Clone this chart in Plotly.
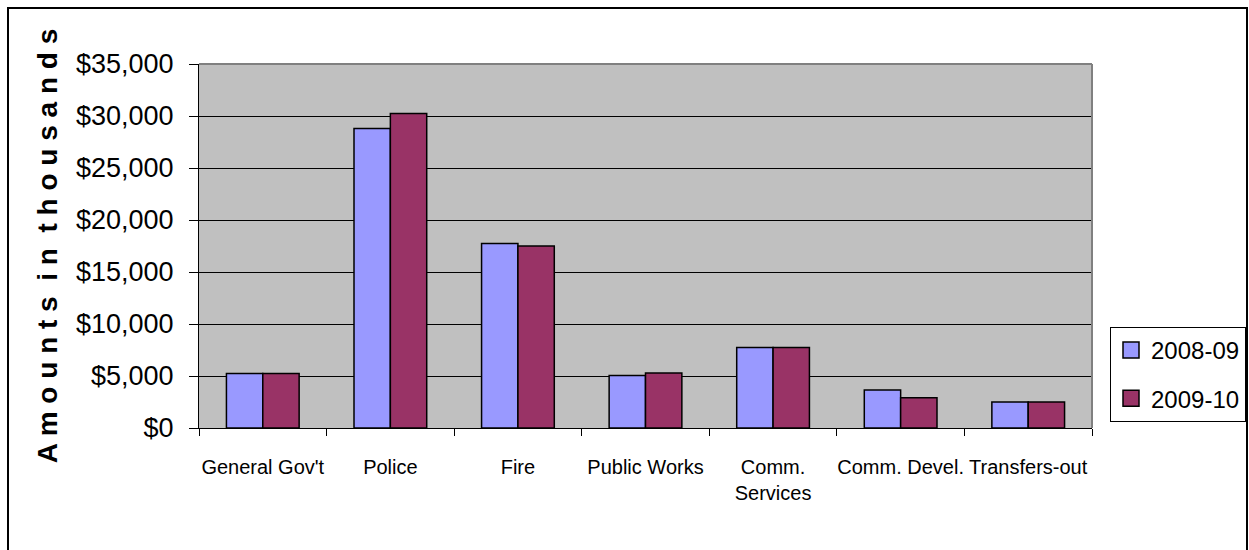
import plotly.graph_objects as go

# Expenditure by department, amounts in thousands of dollars
departments = ["General Gov't", "Police", "Fire", "Public Works",
               "Comm.<br>Services", "Comm. Devel.", "Transfers-out"]
fy_2008_09 = [5250, 28800, 17750, 5050, 7750, 3650, 2500]
fy_2009_10 = [5250, 30250, 17500, 5300, 7750, 2900, 2500]
series_names = ["2008-09", "2009-10"]
series_colors = ["#9999FF", "#993366"]
y_ticks = [0, 5000, 10000, 15000, 20000, 25000, 30000, 35000]
y_tick_labels = ["${:,}".format(v) for v in y_ticks]

FONT = "Liberation Sans, Arial, sans-serif"

fig = go.Figure()
for name, values, color in zip(series_names, [fy_2008_09, fy_2009_10], series_colors):
    fig.add_trace(go.Bar(
        x=departments, y=values, name=name, showlegend=False,
        marker=dict(color=color, line=dict(color="black", width=1.5)),
    ))
    # legend swatch drawn as a larger square marker
    fig.add_trace(go.Scatter(
        x=[None], y=[None], mode="markers", name=name, legendgroup=name,
        marker=dict(symbol="square", size=16, color=color,
                    line=dict(color="black", width=1.5)),
    ))

W, H = 1249, 550
L, R, T, B = 199, 1092, 64, 428
fig.update_layout(
    width=W, height=H,
    margin=dict(l=L, r=W - R, t=T, b=H - B, autoexpand=False),
    paper_bgcolor="white", plot_bgcolor="#C0C0C0",
    barmode="group", bargap=0.43, bargroupgap=0,
    font=dict(family=FONT, color="black"),
    legend=dict(
        x=(1110 - L) / (R - L), y=(B - 327) / (B - T),
        xanchor="left", yanchor="top",
        bgcolor="white", bordercolor="black", borderwidth=1,
        font=dict(size=24, family=FONT),
        itemsizing="trace", itemwidth=30,
        traceorder="grouped", tracegroupgap=14,
    ),
    xaxis=dict(
        showline=True, linecolor="black", linewidth=1,
        ticks="outside", ticklen=7, tickcolor="black", tickson="boundaries",
        tickfont=dict(size=20, family=FONT), ticklabelstandoff=21,
        tickangle=0, showgrid=False, fixedrange=True,
    ),
    yaxis=dict(
        range=[0, 35000], tickmode="array",
        tickvals=y_ticks, ticktext=y_tick_labels,
        showline=True, linecolor="black", linewidth=1,
        ticks="outside", ticklen=9, tickcolor="black",
        tickfont=dict(size=27, family=FONT), ticklabelstandoff=10,
        showgrid=True, gridcolor="black", gridwidth=1,
        zeroline=False, fixedrange=True,
        title=dict(text="A m o u n t s  i n  t h o u s a n d s",
                   font=dict(size=28, family=FONT, weight="bold"),
                   standoff=10),
    ),
    shapes=[
        # grey top and right edges of the plot area
        dict(type="line", xref="paper", yref="paper", x0=0, x1=1, y0=1, y1=1,
             line=dict(color="#808080", width=2)),
        dict(type="line", xref="paper", yref="paper", x0=1, x1=1, y0=0, y1=1,
             line=dict(color="#808080", width=2)),
        # outer chart frame
        dict(type="rect", xref="paper", yref="paper",
             x0=(8 - L) / (R - L), x1=(1247 - L) / (R - L),
             y0=(B - 570) / (B - T), y1=(B - 8) / (B - T),
             line=dict(color="black", width=2)),
    ],
)

fig.write_html("out.html")
